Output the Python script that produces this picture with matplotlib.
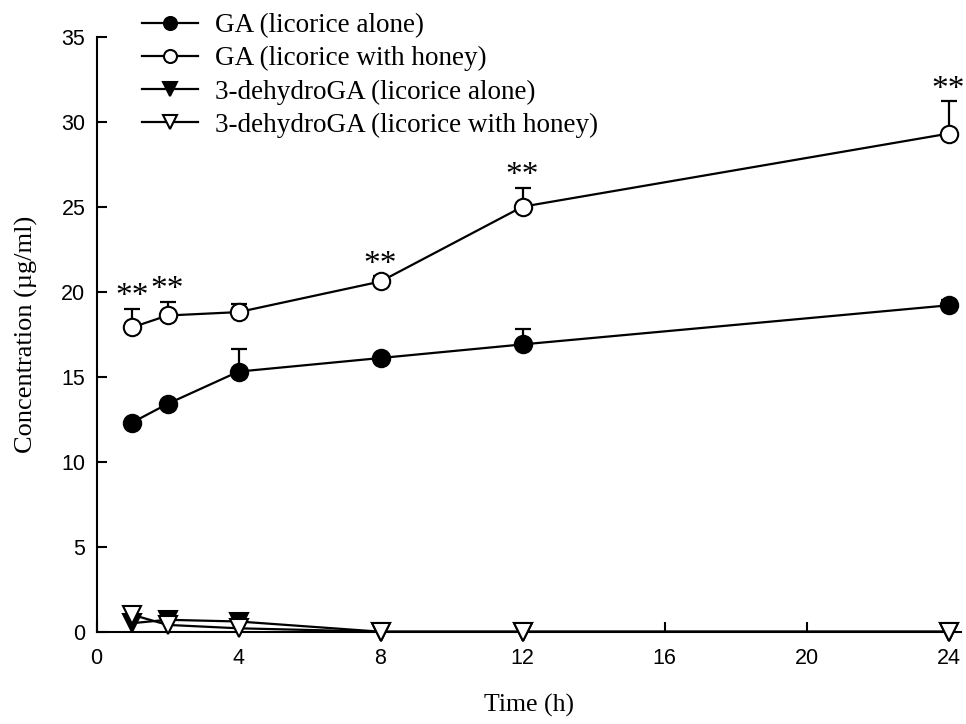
import matplotlib
matplotlib.use("Agg")
import matplotlib.pyplot as plt
import numpy as np

time_h = [1, 2, 4, 8, 12, 24]
ga_alone = [12.3, 13.4, 15.3, 16.1, 16.9, 19.2]
ga_alone_err = [0.0, 0.0, 1.3, 0.0, 0.9, 0.3]
ga_honey = [17.9, 18.6, 18.8, 20.6, 25.0, 29.3]
ga_honey_err = [1.1, 0.8, 0.5, 0.3, 1.1, 1.9]
dh_alone = [0.5, 0.7, 0.6, 0.0, 0.0, 0.0]
dh_honey = [1.0, 0.4, 0.2, 0.0, 0.0, 0.0]
sig_times = [1, 2, 8, 12, 24]
sig_label = "**"

labels = ["GA (licorice alone)", "GA (licorice with honey)",
          "3-dehydroGA (licorice alone)", "3-dehydroGA (licorice with honey)"]
xticks = [0, 4, 8, 12, 16, 20, 24]
yticks = [0, 5, 10, 15, 20, 25, 30, 35]

serif = "Liberation Serif"
sans = "Liberation Sans"

fig = plt.figure(figsize=(9.66, 7.24), dpi=100)
ax = fig.add_axes([96.5/966, 92.3/724, (961-96.5)/966, (631.7-36.7)/724])

lw = 1.6
ms = 12.5
ax.errorbar(time_h, ga_alone, yerr=[np.zeros(len(ga_alone)), ga_alone_err],
            fmt='none', ecolor='black', elinewidth=lw, capsize=6, capthick=lw, zorder=2)
ax.errorbar(time_h, ga_honey, yerr=[np.zeros(len(ga_honey)), ga_honey_err],
            fmt='none', ecolor='black', elinewidth=lw, capsize=6, capthick=lw, zorder=2)

h1, = ax.plot(time_h, ga_alone, '-o', color='black', mfc='black', mec='black',
              ms=ms, lw=lw, mew=1.5, zorder=3, clip_on=False)
h2, = ax.plot(time_h, ga_honey, '-o', color='black', mfc='white', mec='black',
              ms=ms, lw=lw, mew=1.5, zorder=3, clip_on=False)
h3, = ax.plot(time_h, dh_alone, '-v', color='black', mfc='black', mec='black',
              ms=ms, lw=lw, mew=1.5, zorder=3, clip_on=False)
h4, = ax.plot(time_h, dh_honey, '-v', color='black', mfc='white', mec='black',
              ms=ms, lw=lw, mew=1.5, zorder=4, clip_on=False)

for t in sig_times:
    i = time_h.index(t)
    top = ga_honey[i] + ga_honey_err[i]
    ax.annotate(sig_label, xy=(t, top), xytext=(0, 8.5), textcoords='offset points',
                ha='center', va='center', fontsize=24, family=serif)

ax.set_xlim(0, 24.35)
ax.set_ylim(0, 35)
ax.set_xticks(xticks)
ax.set_yticks(yticks)
ax.tick_params(direction='in', length=7, width=1.5, labelsize=15.5)
ax.tick_params(axis='x', pad=12)
ax.tick_params(axis='y', pad=8)
for lab in ax.get_xticklabels() + ax.get_yticklabels():
    lab.set_family(sans)
for s in ['top', 'right']:
    ax.spines[s].set_visible(False)
for s in ['left', 'bottom']:
    ax.spines[s].set_linewidth(1.5)

ax.set_xlabel("Time (h)", family=serif, fontsize=18.5, labelpad=18)
ax.set_ylabel("Concentration (\u00b5g/ml)", family=serif, fontsize=19, labelpad=17)

fig.legend([h1, h2, h3, h4], labels, loc='upper left',
           bbox_to_anchor=(142/966, 1 - 13/724), frameon=False,
           prop={'family': serif, 'size': 19.5}, handlelength=2.07,
           handletextpad=0.63, labelspacing=0.3, borderpad=0, borderaxespad=0,
           markerscale=0.75)

fig.savefig("out.png", dpi=100)
